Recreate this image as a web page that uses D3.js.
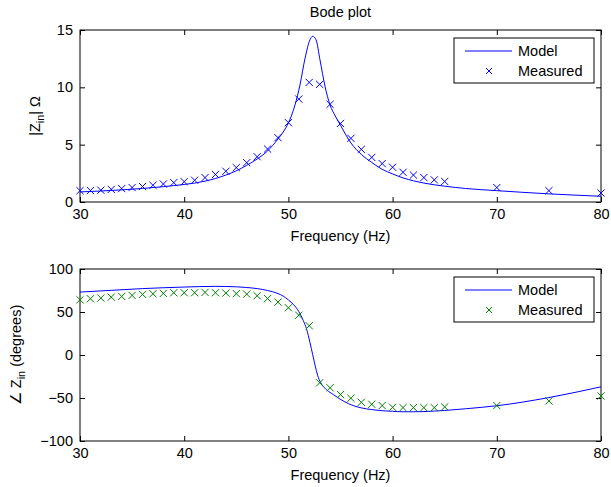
<!DOCTYPE html>
<html><head><meta charset="utf-8">
<script src="https://cdn.jsdelivr.net/npm/d3@7"></script>
<style>
body{margin:0;background:#fff}
text{font-family:"Liberation Sans",Arial,Helvetica,sans-serif;fill:#000}
</style>
</head><body><svg id="c" width="611" height="487"></svg>
<script>
// ---- data ----
const measuredFreq = [30,31,32,33,34,35,36,37,38,39,40,41,42,43,44,45,46,47,48,49,50,51,52,53,54,55,56,57,58,59,60,61,62,63,64,65,70,75,80];
const measuredMag = [0.99,1.0,1.03,1.1,1.17,1.26,1.35,1.46,1.57,1.69,1.77,1.9,2.13,2.4,2.68,3.0,3.43,3.95,4.62,5.61,6.92,8.98,10.43,10.26,8.52,6.85,5.55,4.59,3.89,3.35,3.03,2.59,2.35,2.13,1.93,1.79,1.26,0.99,0.78];
const measuredPhase = [64.2,65.4,66.2,67.3,68.1,69.3,70.5,71.2,71.6,72.4,72.4,72.4,72.8,72.4,72.0,71.4,70.8,68.9,65.6,61.5,54.9,46.2,34.0,-32.3,-38.1,-46.0,-50.3,-55.0,-57.3,-58.8,-60.8,-61.2,-61.2,-61.2,-61.2,-60.4,-58.8,-53.4,-47.6];
const modelMagFreq = [30,32,34,36,38,40,41,42,43,44,45,46,47,48,49,49.5,50,50.63,51.11,51.59,52.07,52.33,52.65,53.03,53.51,54,54.5,55,55.5,56,57,58,59,60,61,62,63,65,67,70,75,80];
const modelMag = [0.88,0.96,1.06,1.18,1.34,1.53,1.65,1.82,2.05,2.35,2.72,3.2,3.75,4.45,5.5,6.1,6.9,8.45,10.2,12.5,14.15,14.45,14.15,12.4,10.1,8.45,7.5,6.7,5.87,5.15,4.15,3.45,2.85,2.45,2.1,1.85,1.65,1.38,1.18,0.99,0.71,0.5];
const modelPhaseFreq = [30,33,36,40,43,45,46,47,48,49,49.5,50,50.5,51,51.43,51.75,52.07,52.33,52.62,52.87,53.19,53.67,54.31,54.95,55.75,57,58,59,60,61,62,63,64,65,67,70,75,80];
const modelPhase = [73.2,75.2,77.2,79,79.8,79.3,78.5,77.2,75,71.5,68.5,64,58.5,50.5,40,30,14.5,0.5,-15,-26,-34,-40.5,-46,-51.2,-56.5,-61.5,-63.5,-64.8,-65.5,-66,-66,-65.8,-65.2,-64.5,-62.5,-59,-49.5,-37];
const xTicks = [30,40,50,60,70,80];
const magTicks = [0,5,10,15];
const phaseTicks = [-100,-50,0,50,100];
const legendLabels = ["Model","Measured"];

// ---- layout ----
const svg = d3.select("#c");
const L = 80, R = 601;
const FS = 14.5;
const x = d3.scaleLinear().domain([30,80]).range([L,R]);

function panel(top, bottom, yDomain, yTicks, model, modelF, meas, measColor, ylabelFn, ylabelX, id){
  const y = d3.scaleLinear().domain(yDomain).range([bottom, top]);
  const g = svg.append("g");
  g.append("clipPath").attr("id", id).append("rect")
    .attr("x", L).attr("y", top).attr("width", R-L).attr("height", bottom-top);

  // axes
  const ax = [
    g.append("g").attr("transform",`translate(0,${bottom})`)
      .call(d3.axisBottom(x).tickValues(xTicks).tickSizeInner(-5).tickSizeOuter(0).tickPadding(7)),
    g.append("g").attr("transform",`translate(0,${top})`)
      .call(d3.axisTop(x).tickValues(xTicks).tickSizeInner(-5).tickSizeOuter(0).tickFormat("")),
    g.append("g").attr("transform",`translate(${L},0)`)
      .call(d3.axisLeft(y).tickValues(yTicks).tickSizeInner(-5).tickSizeOuter(0).tickPadding(7)),
    g.append("g").attr("transform",`translate(${R},0)`)
      .call(d3.axisRight(y).tickValues(yTicks).tickSizeInner(-5).tickSizeOuter(0).tickFormat(""))
  ];
  ax.forEach(a=>{
    a.select(".domain").remove();
    a.selectAll("text").attr("font-size",FS).attr("font-family",'"Liberation Sans",Arial,sans-serif').attr("fill","#000");
    a.selectAll("line").attr("stroke","#000");
  });
  g.append("rect").attr("x",L).attr("y",top).attr("width",R-L).attr("height",bottom-top)
    .attr("fill","none").attr("stroke","#000").attr("stroke-width",1);

  // model line
  const line = d3.line().x((d,i)=>x(modelF[i])).y(d=>y(d)).curve(d3.curveMonotoneX);
  g.append("path").datum(model).attr("d", line).attr("fill","none")
    .attr("stroke","#0000ff").attr("stroke-width",1).attr("clip-path",`url(#${id})`);

  // measured markers
  const s = 3.6;
  g.selectAll(".m").data(meas).enter().append("path")
    .attr("transform",(d,i)=>`translate(${x(measuredFreq[i])},${y(d)})`)
    .attr("d",`M${-s},${-s}L${s},${s}M${-s},${s}L${s},${-s}`)
    .attr("stroke",measColor).attr("stroke-width",1).attr("fill","none");

  // x label
  g.append("text").attr("x",(L+R)/2).attr("y",bottom+39).attr("text-anchor","middle")
    .attr("font-size",FS).text("Frequency (Hz)");

  // y label
  const yl = g.append("text").attr("transform",`translate(${ylabelX},${(top+bottom)/2}) rotate(-90)`)
    .attr("text-anchor","middle").attr("font-size",FS);
  ylabelFn(yl);

  // legend
  const lx = 454, ly = top + 8, lw = 140, lh = 45;
  g.append("rect").attr("x",lx).attr("y",ly).attr("width",lw).attr("height",lh)
    .attr("fill","#fff").attr("stroke","#000").attr("stroke-width",1);
  g.append("line").attr("x1",lx+11).attr("x2",lx+58).attr("y1",ly+13).attr("y2",ly+13)
    .attr("stroke","#0000ff").attr("stroke-width",1);
  const sm = 3, mx = lx+35, my = ly+33;
  g.append("path").attr("transform",`translate(${mx},${my})`)
    .attr("d",`M${-sm},${-sm}L${sm},${sm}M${-sm},${sm}L${sm},${-sm}`)
    .attr("stroke",measColor).attr("stroke-width",1);
  g.append("text").attr("x",lx+64).attr("y",ly+13).attr("dy","0.36em").attr("font-size",FS).text(legendLabels[0]);
  g.append("text").attr("x",lx+64).attr("y",ly+33).attr("dy","0.36em").attr("font-size",FS).text(legendLabels[1]);
}

// title
svg.append("text").attr("x",(L+R)/2).attr("y",17).attr("text-anchor","middle")
  .attr("font-size",FS).text("Bode plot");

panel(30, 202, [0,15], magTicks, modelMag, modelMagFreq, measuredMag, "#0000ff", t=>{
  t.append("tspan").text("|Z");
  t.append("tspan").attr("font-size",FS*0.75).attr("dy",4).text("in");
  t.append("tspan").attr("dy",-4).text("| Ω");
}, 40, "clipA");

panel(269, 441, [-100,100], phaseTicks, modelPhase, modelPhaseFreq, measuredPhase, "#008000", t=>{
  t.append("tspan").text("∠ Z");
  t.append("tspan").attr("font-size",FS*0.75).attr("dy",4).text("in");
  t.append("tspan").attr("dy",-4).text(" (degrees)");
}, 21, "clipB");
</script>
</body></html>
